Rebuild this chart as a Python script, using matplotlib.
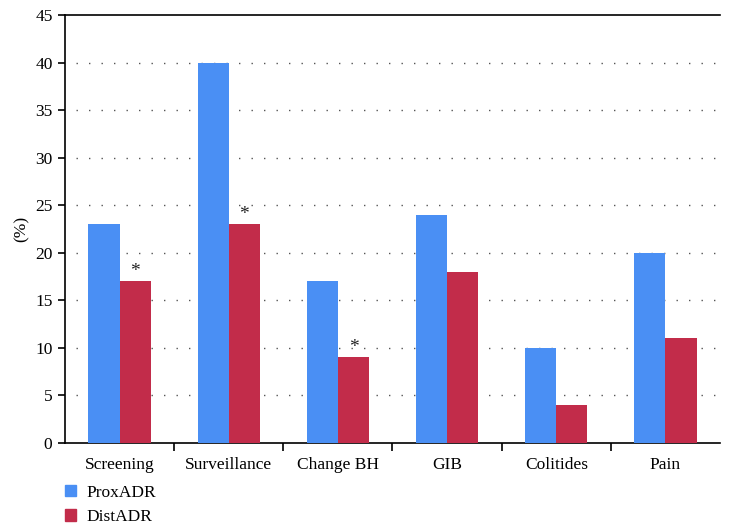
import matplotlib.pyplot as plt
import numpy as np
from matplotlib.patches import Patch

categories = ['Screening', 'Surveillance', 'Change BH', 'GIB', 'Colitides', 'Pain']
prox_adr = [23, 40, 17, 24, 10, 20]
dist_adr = [17, 23, 9, 18, 4, 11]
starred = [True, True, True, False, False, False]

blue = '#4a8ff4'
red = '#c22c4a'

plt.rcParams['font.family'] = ['Liberation Serif', 'DejaVu Serif']

fig = plt.figure(figsize=(7.3, 5.31), dpi=100)
ax = fig.add_axes([65 / 730, 1 - 443 / 531, 655 / 730, 428 / 531])

x = np.arange(len(categories))
w = 0.285
ax.bar(x - w / 2, prox_adr, w, color=blue, zorder=3, label='ProxADR')
ax.bar(x + w / 2, dist_adr, w, color=red, zorder=3, label='DistADR')

for i, s in enumerate(starred):
    if s:
        ax.text(x[i] + w / 2, dist_adr[i] + 0.1, '*', ha='center', va='bottom',
                fontsize=14, color='#222222')

ax.set_xlim(-0.5, len(categories) - 0.5)
ax.set_ylim(0, 45)
ax.set_yticks(range(0, 46, 5))
ax.set_xticks(np.arange(0.5, len(categories) - 0.5, 1))
ax.set_xticklabels([])
ax.set_xticks(x, minor=True)
ax.set_xticklabels(categories, minor=True)
ax.tick_params(axis='x', which='major', length=6, width=1.2, direction='out')
ax.tick_params(axis='x', which='minor', length=0, pad=10, labelsize=12.5)
ax.tick_params(axis='y', length=5, width=1.2, labelsize=12.5, pad=4)

for v in range(5, 41, 5):
    ax.plot([-0.4, len(categories) - 0.5], [v, v], color='#555555', lw=1.0,
            ls=(0, (1, 8)), zorder=1)

ax.spines['right'].set_visible(False)
for sp in ['left', 'top', 'bottom']:
    ax.spines[sp].set_linewidth(1.2)

ax.set_ylabel('(%)', fontsize=12.5, labelpad=4)

handles = [Patch(color=blue, label='ProxADR'), Patch(color=red, label='DistADR')]
fig.legend(handles=handles, loc='upper left', bbox_to_anchor=(49 / 730, 1 - 469 / 531),
           frameon=False, fontsize=12.5, handlelength=0.65, handleheight=0.65,
           handletextpad=0.6, labelspacing=0.5)

fig.savefig('out.png', dpi=100)
